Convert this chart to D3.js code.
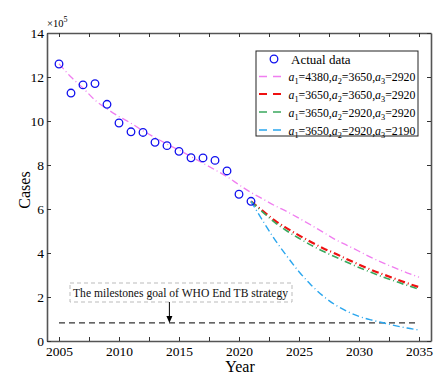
<!DOCTYPE html>
<html><head><meta charset="utf-8">
<script src="https://cdn.jsdelivr.net/npm/d3@7"></script>
<style>body{margin:0;background:#fff}svg{display:block}text{font-family:"Liberation Serif","Times New Roman",serif}</style>
</head><body><svg id="c" width="446" height="382"></svg>
<script>
const actualYears = [2005,2006,2007,2008,2009,2010,2011,2012,2013,2014,2015,2016,2017,2018,2019,2020,2021];
const actualCases = [12.59,11.27,11.64,11.70,10.76,9.91,9.51,9.48,9.03,8.88,8.62,8.33,8.32,8.21,7.73,6.67,6.35];
const fitYears = [2005,2006,2007,2008,2009,2010,2011,2012,2013,2014,2015,2016,2017,2018,2019,2020,2021,2022,2023,2024,2025,2026,2027,2028,2029,2030,2031,2032,2033,2034,2035];
const pinkFit = [12.6,12.0,11.5,10.95,10.55,10.2,9.9,9.55,9.25,8.95,8.68,8.38,8.08,7.78,7.47,7.1,6.75,6.45,6.15,5.88,5.58,5.27,4.95,4.62,4.35,4.08,3.8,3.55,3.32,3.1,2.9];
const predYears = [2021,2022,2023,2024,2025,2026,2027,2028,2029,2030,2031,2032,2033,2034,2035];
const redPred = [6.35,5.9,5.47,5.12,4.8,4.5,4.22,3.98,3.72,3.47,3.24,3.03,2.83,2.63,2.45];
const greenPred = [6.35,5.85,5.38,5.0,4.67,4.36,4.08,3.83,3.58,3.34,3.12,2.91,2.72,2.53,2.36];
const bluePred = [6.35,5.45,4.6,3.85,3.15,2.55,2.05,1.65,1.35,1.12,0.96,0.83,0.7,0.59,0.5];
const goalYears = [2005,2035];
const goalValue = 0.82;
const yTicks = [0,2,4,6,8,10,12,14];
const xTicks = [2005,2007.5,2010,2012.5,2015,2017.5,2020,2022.5,2025,2027.5,2030,2032.5,2035];
const legendLabels = [["4380","3650","2920"],["3650","3650","2920"],["3650","2920","2920"],["3650","2920","2190"]];
const annotationText = "The milestones goal of WHO End TB strategy";

const svg = d3.select("#c");
const L=47,R=431,T=33,B=341;
const x = d3.scaleLinear().domain([2004,2036]).range([L,R]);
const y = d3.scaleLinear().domain([0,14]).range([B,T]);
const axisCol="#555";

const gx = svg.append("g").attr("transform",`translate(0,${B})`)
  .call(d3.axisBottom(x).tickValues(xTicks).tickSizeInner(-4).tickSizeOuter(0)
    .tickFormat(d=>Number.isInteger(d/5)?d3.format("d")(d):""));
const gy = svg.append("g").attr("transform",`translate(${L},0)`)
  .call(d3.axisLeft(y).tickValues(yTicks).tickSizeInner(-4).tickSizeOuter(0).tickFormat(d3.format("d")));
const gt = svg.append("g").attr("transform",`translate(0,${T})`)
  .call(d3.axisTop(x).tickValues(xTicks).tickSizeInner(-4).tickSizeOuter(0).tickFormat(""));
const gr = svg.append("g").attr("transform",`translate(${R},0)`)
  .call(d3.axisRight(y).tickValues(yTicks).tickSizeInner(-4).tickSizeOuter(0).tickFormat(""));
[gx,gy,gt,gr].forEach(g=>{
  g.select(".domain").attr("stroke",axisCol).attr("stroke-width",1.6);
  g.selectAll(".tick line").attr("stroke","#333").attr("stroke-width",1);
  g.selectAll(".tick text").attr("fill","#000").style("font-size","13.5px");
});
gx.selectAll(".tick text").attr("dy","0.9em");
gy.selectAll(".tick text").attr("x",-3);

const ex = svg.append("text").attr("x",47).attr("y",26.5).style("font-size","10.5px").attr("fill","#000");
ex.append("tspan").text("×10");
ex.append("tspan").attr("dy",-5).style("font-size","8px").text("5");

svg.append("text").attr("x",240).attr("y",372).attr("text-anchor","middle").style("font-size","16px").text("Year");
svg.append("text").attr("transform","translate(30,190) rotate(-90)").attr("text-anchor","middle").style("font-size","16px").text("Cases");

const line = d3.line().x(d=>x(d[0])).y(d=>y(d[1])).curve(d3.curveMonotoneX);
const series = [
  {yrs:fitYears, vals:pinkFit, col:"#f07ef0", w:1.3, dash:"7,3,1,3"},
  {yrs:predYears, vals:redPred, col:"#ee1111", w:2.2, dash:"7,3,1,3"},
  {yrs:predYears, vals:greenPred, col:"#3aa85e", w:1.6, dash:"7,3,1,3"},
  {yrs:predYears, vals:bluePred, col:"#2aa6ee", w:1.4, dash:"7,3,1,3"}
];
svg.append("path").attr("d",line(goalYears.map(t=>[t,goalValue])))
  .attr("fill","none").attr("stroke","#333").attr("stroke-width",1.2).attr("stroke-dasharray","6,4");

series.forEach(s=>{
  svg.append("path").attr("d",line(s.yrs.map((t,i)=>[t,s.vals[i]])))
    .attr("fill","none").attr("stroke",s.col).attr("stroke-width",s.w).attr("stroke-dasharray",s.dash);
});

svg.append("g").selectAll("circle").data(actualYears).join("circle")
  .attr("cx",d=>x(d)).attr("cy",(d,i)=>y(actualCases[i])).attr("r",3.8)
  .attr("fill","none").attr("stroke","#1010ee").attr("stroke-width",1.3);

svg.append("rect").attr("x",70).attr("y",283).attr("width",222).attr("height",19)
  .attr("fill","#fff").attr("stroke","#bbb").attr("stroke-dasharray","4,3");
svg.append("text").attr("x",73).attr("y",297).style("font-size","12px").attr("fill","#111")
  .attr("textLength",215).attr("lengthAdjust","spacingAndGlyphs").text(annotationText);
const ax = x(2014.2);
svg.append("line").attr("x1",ax).attr("x2",ax).attr("y1",302).attr("y2",317).attr("stroke","#000").attr("stroke-width",1);
svg.append("path").attr("d",`M${ax-3},${316}L${ax+3},${316}L${ax},${y(goalValue)}Z`).attr("fill","#000");

const lg = svg.append("g");
lg.append("rect").attr("x",256).attr("y",51).attr("width",162).attr("height",85)
  .attr("fill","#fff").attr("stroke","#222").attr("stroke-width",1);
const rowY=[59,76.5,94,112,130];
lg.append("circle").attr("cx",274).attr("cy",rowY[0]).attr("r",3.8).attr("fill","none").attr("stroke","#1010ee").attr("stroke-width",1.3);
lg.append("text").attr("x",291).attr("y",rowY[0]+4.5).style("font-size","13px").text("Actual data");
series.forEach((s,i)=>{
  const yy=rowY[i+1];
  lg.append("line").attr("x1",259).attr("x2",284).attr("y1",yy).attr("y2",yy)
    .attr("stroke",s.col).attr("stroke-width",s.w).attr("stroke-dasharray","8,6");
  const fs = 13;
  const t = lg.append("text").attr("x",288.5).attr("y",yy+4.5).style("font-size",fs+"px");
  legendLabels[i].forEach((v,k)=>{
    t.append("tspan").style("font-style","italic").text("a");
    t.append("tspan").attr("dy",3).style("font-size","0.7em").text(k+1);
    t.append("tspan").attr("dy",-3).text("="+v+(k<2?",":""));
  });
  const w = t.node().getComputedTextLength();
  const nfs = fs*127/w;
  t.style("font-size",nfs+"px");
});
</script></body></html>
